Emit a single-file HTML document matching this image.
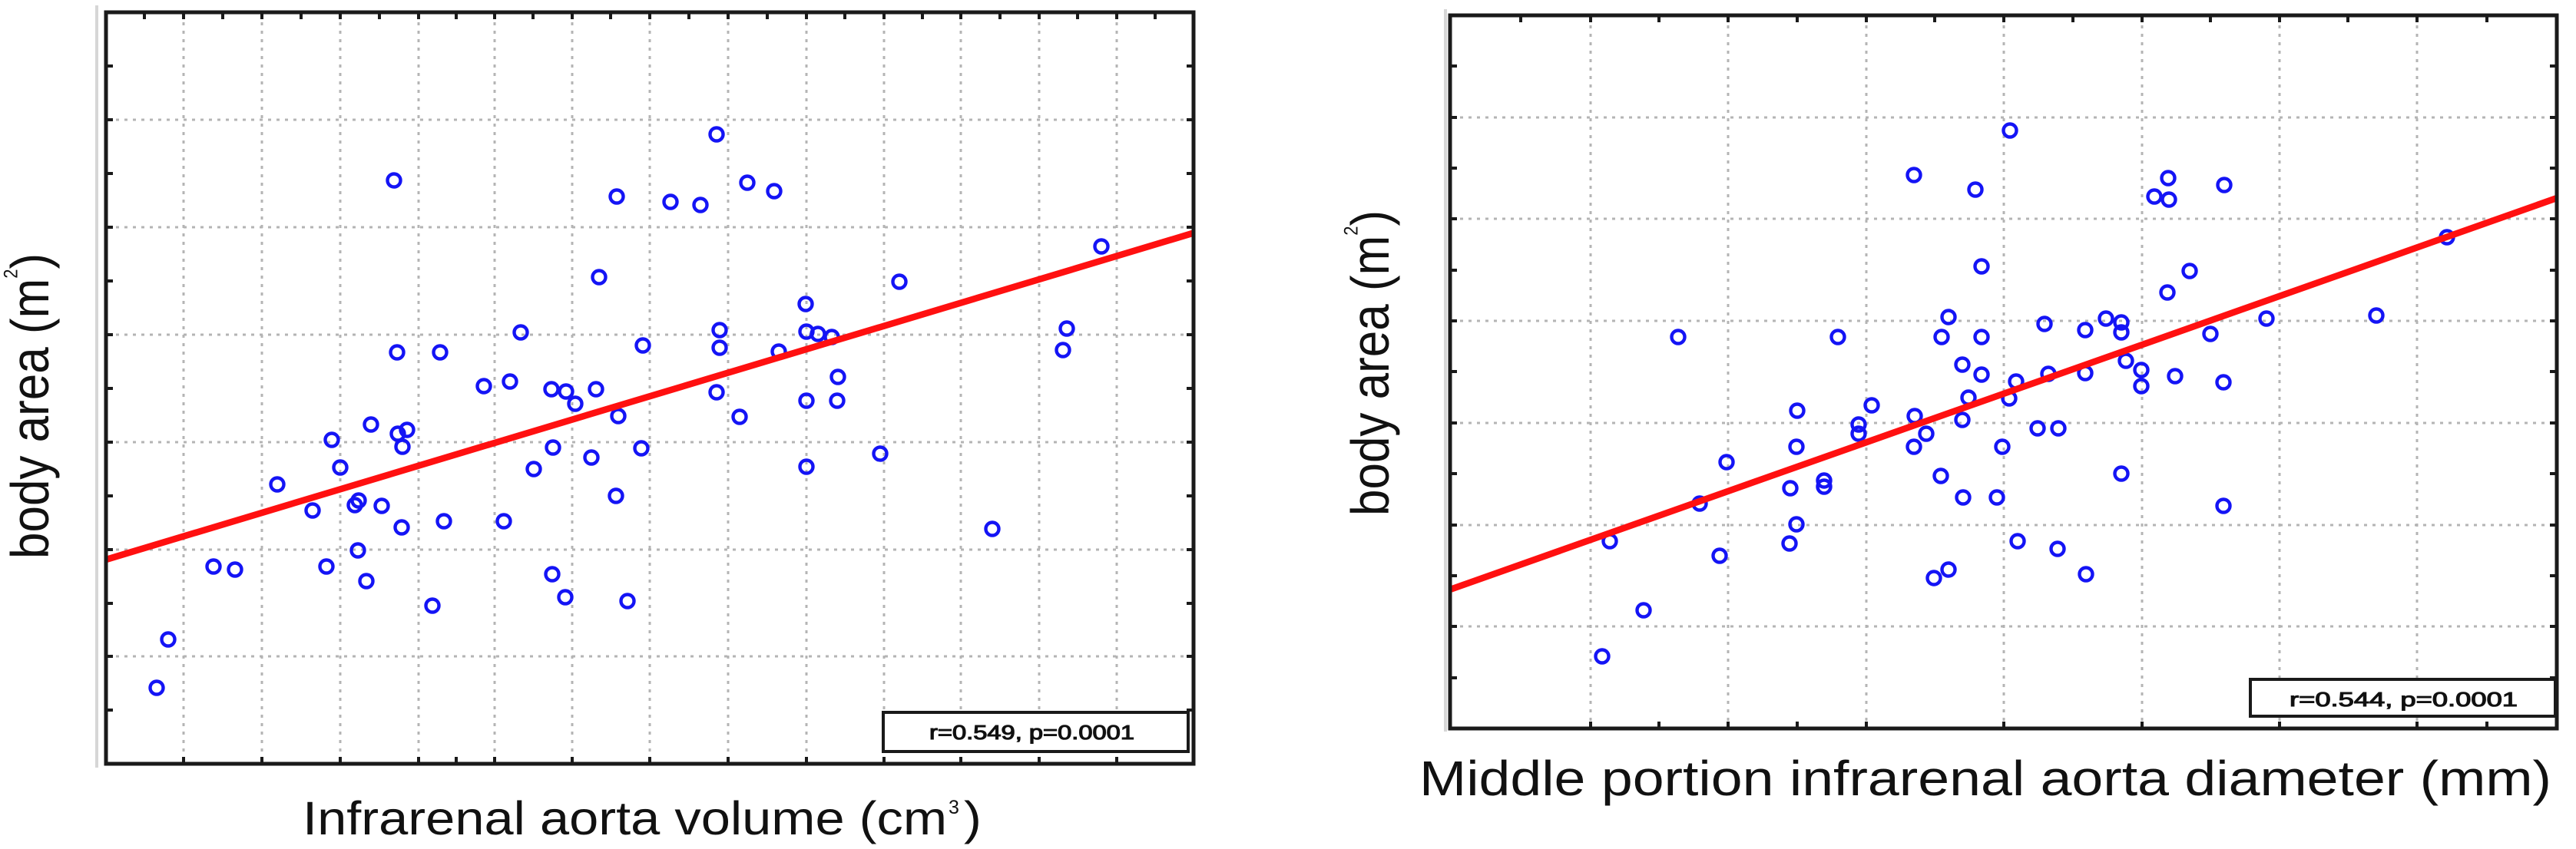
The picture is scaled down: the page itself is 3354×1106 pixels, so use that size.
<!DOCTYPE html>
<html><head><meta charset="utf-8"><style>
html,body{margin:0;padding:0;background:#fff;}
svg{display:block;}
text{font-family:"Liberation Sans",Arial,sans-serif;fill:#111;}
</style></head><body>
<svg width="3354" height="1106" viewBox="0 0 3354 1106" xmlns="http://www.w3.org/2000/svg">
<rect width="3354" height="1106" fill="#fff"/>

<!-- light gray panel edges -->
<line x1="126" y1="7" x2="126" y2="1000" stroke="#d6d6d6" stroke-width="4"/>
<line x1="1882" y1="12" x2="1882" y2="953" stroke="#d6d6d6" stroke-width="4"/>

<!-- ===== LEFT PLOT ===== -->
<g stroke="#b4b4b4" stroke-width="3" stroke-dasharray="4 7" fill="none">
<path d="M239,18V993M341,18V993M443,18V993M545,18V993M644,18V993M745,18V993M846,18V993M948,18V993M1050,18V993M1151,18V993M1251,18V993M1353,18V993M1454,18V993"/>
<path d="M140,156H1552M140,296H1552M140,436H1552M140,576H1552M140,716H1552M140,855H1552"/>
</g>
<g stroke="#1a1a1a" stroke-width="4" fill="none">
<path d="M138,86h9M138,156h9M138,226h9M138,296h9M138,366h9M138,436h9M138,506h9M138,576h9M138,646h9M138,716h9M138,786h9M138,855h9M138,925h9"/>
<path d="M1554,86h-9M1554,156h-9M1554,226h-9M1554,296h-9M1554,366h-9M1554,436h-9M1554,506h-9M1554,576h-9M1554,646h-9M1554,716h-9M1554,786h-9M1554,855h-9M1554,925h-9"/>
<path d="M188,16v9M239,16v9M290,16v9M341,16v9M392,16v9M443,16v9M494,16v9M545,16v9M594,16v9M644,16v9M694,16v9M745,16v9M795,16v9M846,16v9M897,16v9M948,16v9M999,16v9M1050,16v9M1100,16v9M1151,16v9M1201,16v9M1251,16v9M1302,16v9M1353,16v9M1403,16v9M1454,16v9M1504,16v9"/>
<path d="M239,995v-9M341,995v-9M443,995v-9M545,995v-9M594,995v-9M644,995v-9M745,995v-9M846,995v-9M948,995v-9M1050,995v-9M1151,995v-9M1251,995v-9M1353,995v-9M1454,995v-9"/>
</g>
<g fill="none" stroke="#1414f5" stroke-width="4.4">
<circle cx="204" cy="896" r="8.5"/><circle cx="219" cy="833" r="8.5"/><circle cx="278" cy="738" r="8.5"/><circle cx="306" cy="742" r="8.5"/>
<circle cx="361" cy="631" r="8.5"/><circle cx="407" cy="665" r="8.5"/><circle cx="425" cy="738" r="8.5"/><circle cx="432" cy="573" r="8.5"/>
<circle cx="443" cy="609" r="8.5"/><circle cx="467" cy="652" r="8.5"/><circle cx="462" cy="658" r="8.5"/><circle cx="466" cy="717" r="8.5"/>
<circle cx="477" cy="757" r="8.5"/><circle cx="483" cy="553" r="8.5"/><circle cx="497" cy="659" r="8.5"/><circle cx="513" cy="235" r="8.5"/>
<circle cx="517" cy="459" r="8.5"/><circle cx="518" cy="565" r="8.5"/><circle cx="530" cy="560" r="8.5"/><circle cx="524" cy="582" r="8.5"/>
<circle cx="523" cy="687" r="8.5"/><circle cx="563" cy="789" r="8.5"/><circle cx="573" cy="459" r="8.5"/><circle cx="578" cy="679" r="8.5"/>
<circle cx="630" cy="503" r="8.5"/><circle cx="656" cy="679" r="8.5"/><circle cx="664" cy="497" r="8.5"/><circle cx="678" cy="433" r="8.5"/>
<circle cx="695" cy="611" r="8.5"/><circle cx="718" cy="507" r="8.5"/><circle cx="720" cy="583" r="8.5"/><circle cx="719" cy="748" r="8.5"/>
<circle cx="737" cy="510" r="8.5"/><circle cx="736" cy="778" r="8.5"/><circle cx="749" cy="526" r="8.5"/><circle cx="770" cy="596" r="8.5"/>
<circle cx="776" cy="507" r="8.5"/><circle cx="780" cy="361" r="8.5"/><circle cx="803" cy="256" r="8.5"/><circle cx="802" cy="646" r="8.5"/>
<circle cx="805" cy="542" r="8.5"/><circle cx="817" cy="783" r="8.5"/><circle cx="837" cy="450" r="8.5"/><circle cx="835" cy="584" r="8.5"/>
<circle cx="873" cy="263" r="8.5"/><circle cx="912" cy="267" r="8.5"/><circle cx="933" cy="175" r="8.5"/><circle cx="937" cy="430" r="8.5"/>
<circle cx="937" cy="453" r="8.5"/><circle cx="933" cy="511" r="8.5"/><circle cx="963" cy="543" r="8.5"/><circle cx="973" cy="238" r="8.5"/>
<circle cx="1008" cy="249" r="8.5"/><circle cx="1014" cy="458" r="8.5"/><circle cx="1049" cy="396" r="8.5"/><circle cx="1050" cy="432" r="8.5"/>
<circle cx="1065" cy="435" r="8.5"/><circle cx="1083" cy="439" r="8.5"/><circle cx="1050" cy="522" r="8.5"/><circle cx="1050" cy="608" r="8.5"/>
<circle cx="1091" cy="491" r="8.5"/><circle cx="1090" cy="522" r="8.5"/><circle cx="1146" cy="591" r="8.5"/><circle cx="1171" cy="367" r="8.5"/>
<circle cx="1292" cy="689" r="8.5"/><circle cx="1384" cy="456" r="8.5"/><circle cx="1389" cy="428" r="8.5"/><circle cx="1434" cy="321" r="8.5"/>
</g>
<line x1="138" y1="729" x2="1554" y2="303.5" stroke="#ff1010" stroke-width="8.5"/>
<rect x="138" y="16" width="1416" height="979" fill="none" stroke="#1a1a1a" stroke-width="5"/>
<rect x="1150" y="928" width="397" height="51" fill="#fff" stroke="#1a1a1a" stroke-width="4"/>
<text x="1210" y="963" font-size="25.5" textLength="267" lengthAdjust="spacingAndGlyphs" stroke="#111" stroke-width="1.1">r=0.549, p=0.0001</text>

<!-- left labels -->
<text x="394" y="1087" font-size="61.5" textLength="839" lengthAdjust="spacingAndGlyphs">Infrarenal aorta volume (cm</text>
<text x="1235" y="1060" font-size="25">3</text>
<text transform="translate(1255,1087) scale(1.12,1)" font-size="61.5">)</text>
<g transform="translate(63,728) scale(1.12,1) rotate(-90)">
<text x="0" y="0" font-size="62">body area (m<tspan font-size="22" dy="-36">2</tspan><tspan dy="36">)</tspan></text>
</g>

<!-- ===== RIGHT PLOT ===== -->
<g stroke="#b4b4b4" stroke-width="3" stroke-dasharray="4 7" fill="none">
<path d="M2071,22V947M2250,22V947M2430,22V947M2609,22V947M2789,22V947M2968,22V947M3147,22V947"/>
<path d="M1890,153H3327M1890,285H3327M1890,418H3327M1890,551H3327M1890,684H3327M1890,816H3327"/>
</g>
<g stroke="#1a1a1a" stroke-width="4" fill="none">
<path d="M1888,86h9M1888,153h9M1888,219h9M1888,285h9M1888,352h9M1888,418h9M1888,484h9M1888,551h9M1888,617h9M1888,684h9M1888,750h9M1888,816h9M1888,883h9"/>
<path d="M3329,86h-9M3329,153h-9M3329,219h-9M3329,285h-9M3329,352h-9M3329,418h-9M3329,484h-9M3329,551h-9M3329,617h-9M3329,684h-9M3329,750h-9M3329,816h-9M3329,883h-9"/>
<path d="M1980,20v9M2071,20v9M2160,20v9M2250,20v9M2340,20v9M2430,20v9M2519,20v9M2609,20v9M2699,20v9M2789,20v9M2878,20v9M2968,20v9M3057,20v9M3147,20v9M3238,20v9"/>
<path d="M2071,949v-9M2160,949v-9M2250,949v-9M2340,949v-9M2430,949v-9M2609,949v-9M2789,949v-9M2968,949v-9M3147,949v-9M3238,949v-9"/>
</g>
<g fill="none" stroke="#1414f5" stroke-width="4.4">
<circle cx="2086" cy="855" r="8.5"/><circle cx="2096" cy="705" r="8.5"/><circle cx="2140" cy="795" r="8.5"/><circle cx="2185" cy="439" r="8.5"/>
<circle cx="2213" cy="656" r="8.5"/><circle cx="2239" cy="724" r="8.5"/><circle cx="2248" cy="602" r="8.5"/><circle cx="2331" cy="636" r="8.5"/>
<circle cx="2375" cy="626" r="8.5"/><circle cx="2375" cy="634" r="8.5"/><circle cx="2339" cy="683" r="8.5"/><circle cx="2330" cy="708" r="8.5"/>
<circle cx="2339" cy="582" r="8.5"/><circle cx="2340" cy="535" r="8.5"/><circle cx="2393" cy="439" r="8.5"/><circle cx="2420" cy="553" r="8.5"/>
<circle cx="2420" cy="565" r="8.5"/><circle cx="2437" cy="528" r="8.5"/><circle cx="2492" cy="228" r="8.5"/><circle cx="2493" cy="542" r="8.5"/>
<circle cx="2508" cy="565" r="8.5"/><circle cx="2492" cy="582" r="8.5"/><circle cx="2527" cy="620" r="8.5"/><circle cx="2556" cy="648" r="8.5"/>
<circle cx="2518" cy="753" r="8.5"/><circle cx="2537" cy="742" r="8.5"/><circle cx="2537" cy="413" r="8.5"/><circle cx="2528" cy="439" r="8.5"/>
<circle cx="2555" cy="475" r="8.5"/><circle cx="2563" cy="518" r="8.5"/><circle cx="2555" cy="547" r="8.5"/><circle cx="2572" cy="247" r="8.5"/>
<circle cx="2580" cy="347" r="8.5"/><circle cx="2580" cy="439" r="8.5"/><circle cx="2580" cy="488" r="8.5"/><circle cx="2617" cy="170" r="8.5"/>
<circle cx="2616" cy="519" r="8.5"/><circle cx="2625" cy="497" r="8.5"/><circle cx="2607" cy="582" r="8.5"/><circle cx="2600" cy="648" r="8.5"/>
<circle cx="2627" cy="705" r="8.5"/><circle cx="2653" cy="558" r="8.5"/><circle cx="2680" cy="558" r="8.5"/><circle cx="2662" cy="422" r="8.5"/>
<circle cx="2667" cy="487" r="8.5"/><circle cx="2679" cy="715" r="8.5"/><circle cx="2715" cy="430" r="8.5"/><circle cx="2715" cy="486" r="8.5"/>
<circle cx="2716" cy="748" r="8.5"/><circle cx="2742" cy="415" r="8.5"/><circle cx="2762" cy="420" r="8.5"/><circle cx="2762" cy="433" r="8.5"/>
<circle cx="2762" cy="617" r="8.5"/><circle cx="2768" cy="470" r="8.5"/><circle cx="2788" cy="482" r="8.5"/><circle cx="2788" cy="503" r="8.5"/>
<circle cx="2805" cy="256" r="8.5"/><circle cx="2823" cy="232" r="8.5"/><circle cx="2824" cy="260" r="8.5"/><circle cx="2822" cy="381" r="8.5"/>
<circle cx="2851" cy="353" r="8.5"/><circle cx="2832" cy="490" r="8.5"/><circle cx="2878" cy="435" r="8.5"/><circle cx="2896" cy="241" r="8.5"/>
<circle cx="2895" cy="498" r="8.5"/><circle cx="2895" cy="659" r="8.5"/><circle cx="2951" cy="415" r="8.5"/><circle cx="3094" cy="411" r="8.5"/>
<circle cx="3186" cy="309" r="8.5"/>
</g>
<line x1="1888" y1="768" x2="3329" y2="258" stroke="#ff1010" stroke-width="8.5"/>
<rect x="1888" y="20" width="1441" height="929" fill="none" stroke="#1a1a1a" stroke-width="5"/>
<rect x="2930" y="885" width="397" height="48" fill="#fff" stroke="#1a1a1a" stroke-width="4"/>
<text x="2981" y="920" font-size="26" textLength="297" lengthAdjust="spacingAndGlyphs" stroke="#111" stroke-width="1.1">r=0.544, p=0.0001</text>

<!-- right labels -->
<text x="1848" y="1036" font-size="64" textLength="1474" lengthAdjust="spacingAndGlyphs">Middle portion infrarenal aorta diameter (mm)</text>
<g transform="translate(1808,672) scale(1.12,1) rotate(-90)">
<text x="0" y="0" font-size="62">body area (m<tspan font-size="22" dy="-36">2</tspan><tspan dy="36">)</tspan></text>
</g>
</svg>
</body></html>
